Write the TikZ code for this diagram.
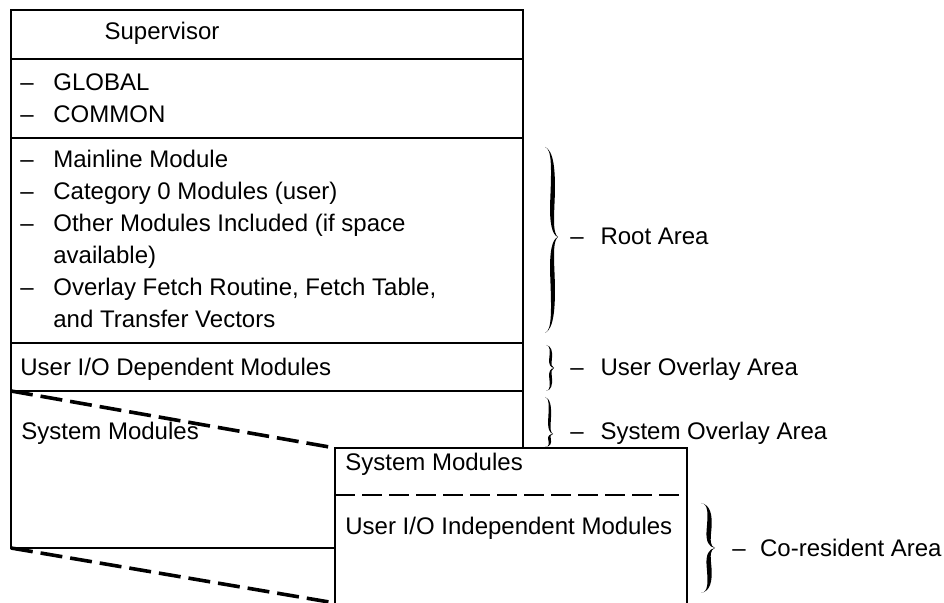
\documentclass[tikz,border=0pt]{standalone}
\usepackage{fontspec}
\setmainfont{Liberation Sans}
\begin{document}
\begin{tikzpicture}[x=0.5pt,y=-0.5pt,
  txt/.style={inner sep=0pt, anchor=base west, font=\fontsize{12}{14}\selectfont},
  boxline/.style={line width=1.4pt, line cap=rect},
  dashline/.style={line width=1.8pt, dash pattern=on 11pt off 4pt},
  innerdash/.style={line width=1.4pt, dash pattern=on 10pt off 3.5pt},
  bracearm/.pic={\fill (0,0) .. controls (0.55,0.02) and (0.5,0.25) .. (0.4,0.6)
      .. controls (0.33,0.85) and (0.55,0.98) .. (1,1)
      .. controls (0.65,0.96) and (0.66,0.85) .. (0.74,0.6)
      .. controls (0.84,0.25) and (0.66,0.04) .. (0,0) -- cycle;}
]
\useasboundingbox (0,0) rectangle (944,603);

% corners
\coordinate (tl) at (11,10);
\coordinate (tr) at (523,10);
\coordinate (l1) at (11,59);   \coordinate (r1) at (523,59);
\coordinate (l2) at (11,138);  \coordinate (r2) at (523,138);
\coordinate (l3) at (11,343);  \coordinate (r3) at (523,343);
\coordinate (l4) at (11,391);  \coordinate (r4) at (523,391);
\coordinate (bl) at (11,548);  \coordinate (bm) at (335,548);
\coordinate (rb) at (523,448);
\coordinate (s1) at (335,448); \coordinate (s2) at (687,448);
\coordinate (s3) at (335,603); \coordinate (s4) at (687,603);
\coordinate (d1) at (335,495); \coordinate (d2) at (687,495);

% main column
\draw[boxline] (bl) -- (tl) -- (tr) -- (rb);
\draw[boxline] (l1) -- (r1);
\draw[boxline] (l2) -- (r2);
\draw[boxline] (l3) -- (r3);
\draw[boxline] (l4) -- (r4);
\draw[boxline] (bl) -- (bm);
% second box
\draw[boxline] (s3) -- (s1) -- (s2) -- (s4);
\draw[innerdash] (d1) -- (d2);
% dashed projection lines
\draw[dashline] (l4) -- (s1);
\draw[dashline] (bl) -- (s3);

% texts
\node[txt, anchor=base] (sup) at (162,40) {Supervisor};
\node[txt] (g0) at (20,91) {\textendash};   \node[txt] (g1) at (53,91) {GLOBAL};
\node[txt] (c0) at (20,123) {\textendash};  \node[txt] (c1) at (53,123) {COMMON};
\node[txt] (m0) at (20,168) {\textendash};  \node[txt] (m1) at (53,168) {Mainline Module};
\node[txt] (k0) at (20,200) {\textendash};  \node[txt] (k1) at (53,200) {Category 0 Modules (user)};
\node[txt] (o0) at (20,232) {\textendash};  \node[txt] (o1) at (53,232) {Other Modules Included (if space};
\node[txt] (o2) at (53,264) {available)};
\node[txt] (f0) at (20,296) {\textendash};  \node[txt] (f1) at (53,296) {Overlay Fetch Routine, Fetch Table,};
\node[txt] (f2) at (53,328) {and Transfer Vectors};
\node[txt] (ud) at (20,376) {User I/O Dependent Modules};
\node[txt] (sm) at (21,440) {System Modules};
\node[txt] (sm2) at (345,471) {System Modules};
\node[txt] (ui) at (345,535) {User I/O Independent Modules};

% braces
\pic[xscale=13, yscale=90] at (545,147) {bracearm};
\pic[xscale=13, yscale=-96] at (545,333) {bracearm};
\pic[xscale=8, yscale=23] at (546,345) {bracearm};
\pic[xscale=8, yscale=-23] at (546,391) {bracearm};
\pic[xscale=8, yscale=37] at (545,397) {bracearm};
\pic[xscale=8, yscale=-13] at (545,447) {bracearm};
\pic[xscale=14, yscale=45] at (701,503) {bracearm};
\pic[xscale=14, yscale=-45] at (701,593) {bracearm};

% labels
\node[txt] (ra) at (570,245) {\textendash\hspace{0.7em}Root Area};
\node[txt] (uo) at (570,376) {\textendash\hspace{0.7em}User Overlay Area};
\node[txt] (so) at (570,440) {\textendash\hspace{0.7em}System Overlay Area};
\node[txt] (co) at (732,557) {\textendash\hspace{0.6em}Co-resident Area};
\end{tikzpicture}
\end{document}
